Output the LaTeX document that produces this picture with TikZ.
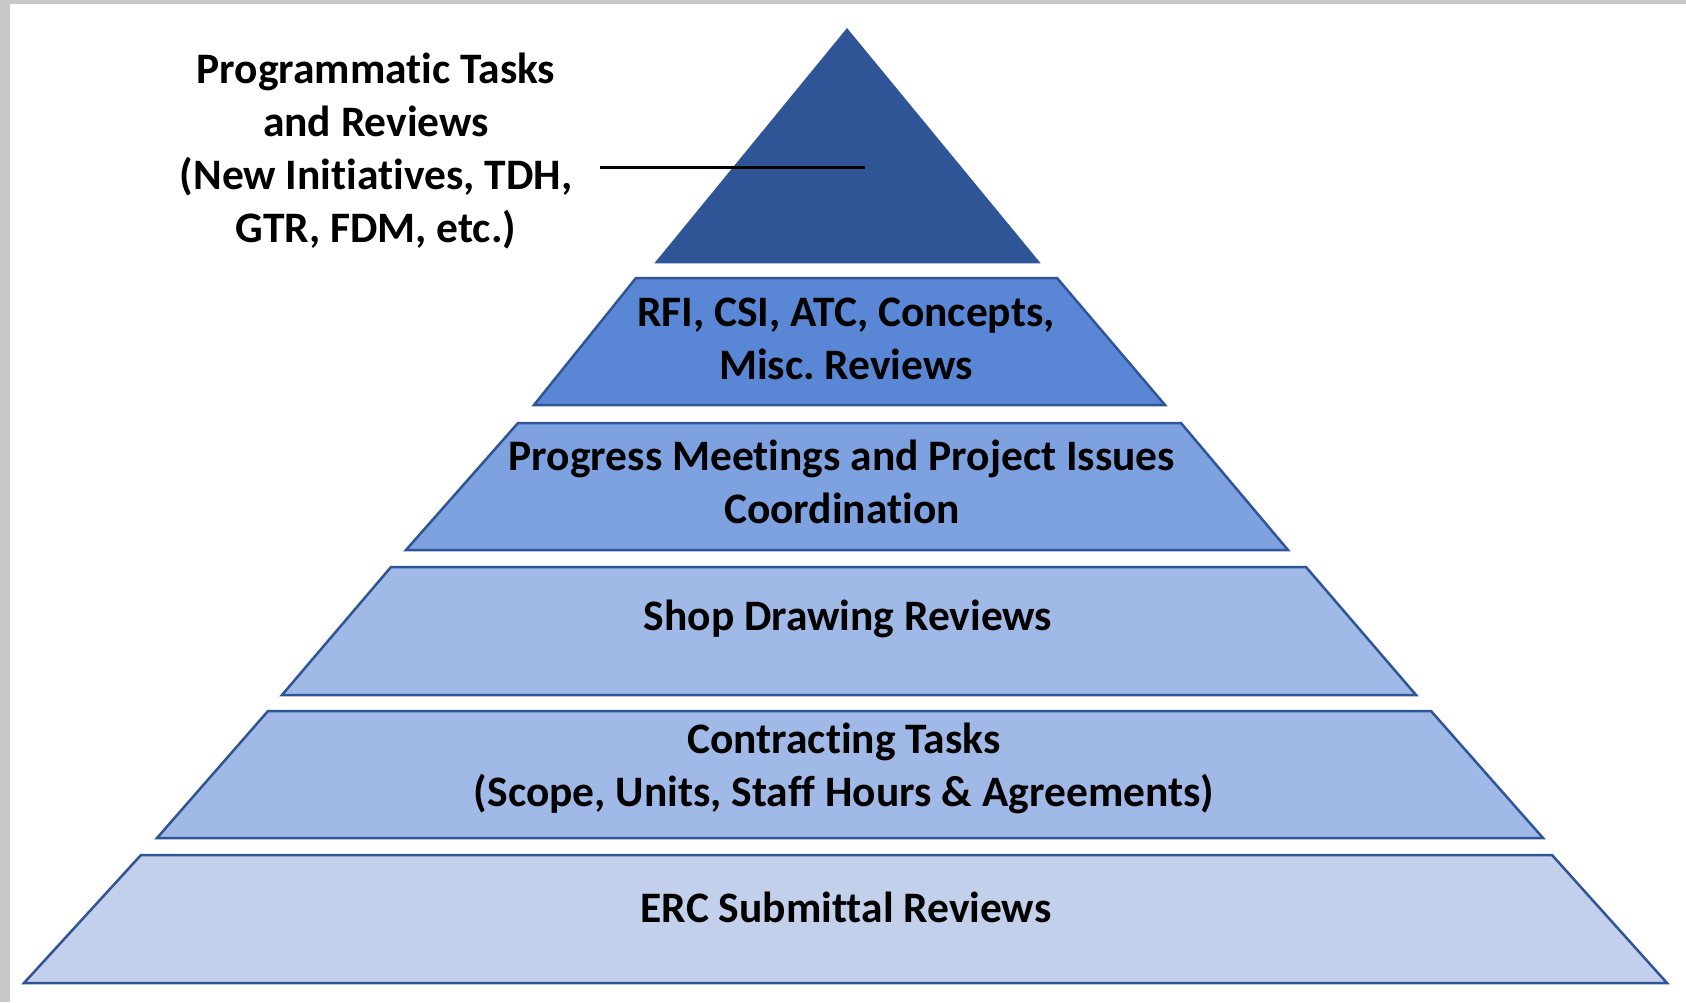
\documentclass[tikz,border=0pt]{standalone}
\usepackage{fontspec}
\setmainfont{Carlito}[Ligatures=NoCommon]
\usepackage{tikz}
\usetikzlibrary{positioning}
\frenchspacing
\definecolor{tierline}{HTML}{2F5597}
\definecolor{tierA}{HTML}{2F5597}
\definecolor{tierB}{HTML}{5A87D5}
\definecolor{tierC}{HTML}{7EA1DF}
\definecolor{tierD}{HTML}{A0B9E6}
\definecolor{tierE}{HTML}{A0B9E6}
\definecolor{tierF}{HTML}{C2D0EB}
\definecolor{framegray}{HTML}{C8C8C8}
\tikzset{
  tier/.style={draw=tierline, line width=2.5pt},
  tiertext/.style={font=\fontsize{43.5}{53}\selectfont\bfseries, align=center, anchor=base, inner sep=0pt},
  pointer/.style={draw=black, line width=3pt},
}

\begin{document}
\begin{tikzpicture}[x=1pt, y=-1pt]
                \useasboundingbox (0,0) rectangle (1686,1002);
                \fill[framegray] (0,0) rectangle (1686,4);
                \fill[framegray] (0,0) rectangle (10,1002);

                \draw[tier, fill=tierA] (847,30) -- (1038,262) -- (657,262) -- cycle;
                \draw[tier, fill=tierB] (636,278) -- (1057,278) -- (1165,405) -- (534,405) -- cycle;
                \draw[tier, fill=tierC] (518,423) -- (1181,423) -- (1288,550) -- (406,550) -- cycle;
                \draw[tier, fill=tierD] (391,567) -- (1306,567) -- (1416,695) -- (282,695) -- cycle;
                \draw[tier, fill=tierE] (268,711) -- (1431,711) -- (1543,838) -- (157,838) -- cycle;
                \draw[tier, fill=tierF] (141,855) -- (1552,855) -- (1667,983) -- (24,983) -- cycle;

                \node[tiertext] (prog) at (376,242) {Programmatic Tasks\\and Reviews\\(New Initiatives, TDH,\\GTR, FDM, etc.)};
                \node[tiertext] (rfi) at (846,379) {RFI, CSI, ATC, Concepts,\\Misc. Reviews};
                \node[tiertext] (meet) at (842,523) {Progress Meetings and Project Issues\\Coordination};
                \node[tiertext] (shop) at (848,630) {Shop Drawing Reviews};
                \node[tiertext] (contr) at (844,806) {Contracting Tasks\\(Scope, Units, Staff Hours \& Agreements)};
                \node[tiertext] (erc) at (846,922) {ERC Submittal Reviews};

                \coordinate (tip) at (865,167);
                \draw[pointer] ([xshift=28pt]prog.east |- tip) -- (tip);

            \end{tikzpicture}
\end{document}
